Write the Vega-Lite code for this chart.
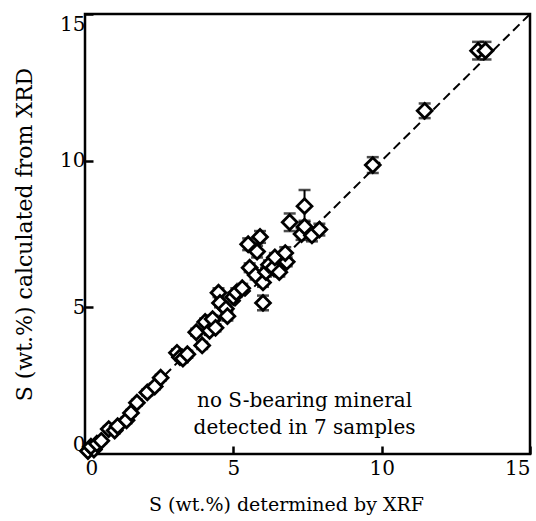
{
  "$schema": "https://vega.github.io/schema/vega-lite/v6.json",
  "width": 445,
  "height": 440,
  "autosize": "none",
  "padding": {"left": 85, "top": 14, "right": 6, "bottom": 67},
  "background": "white",
  "datasets": {
    "samples": [
      {"xrf": 0.1, "xrd": 0.1, "lo": 0.05, "hi": 0.15},
      {"xrf": 0.3, "xrd": 0.15, "lo": 0.1, "hi": 0.2},
      {"xrf": 0.2, "xrd": 0.25, "lo": 0.2, "hi": 0.3},
      {"xrf": 0.4, "xrd": 0.35, "lo": 0.27, "hi": 0.43},
      {"xrf": 0.55, "xrd": 0.45, "lo": 0.37, "hi": 0.53},
      {"xrf": 0.8, "xrd": 0.85, "lo": 0.75, "hi": 0.95},
      {"xrf": 1.0, "xrd": 0.8, "lo": 0.7, "hi": 0.9},
      {"xrf": 1.1, "xrd": 0.95, "lo": 0.85, "hi": 1.05},
      {"xrf": 1.4, "xrd": 1.15, "lo": 1.05, "hi": 1.25},
      {"xrf": 1.55, "xrd": 1.4, "lo": 1.3, "hi": 1.5},
      {"xrf": 1.75, "xrd": 1.75, "lo": 1.65, "hi": 1.85},
      {"xrf": 2.1, "xrd": 2.1, "lo": 2.0, "hi": 2.2},
      {"xrf": 2.35, "xrd": 2.3, "lo": 2.2, "hi": 2.4},
      {"xrf": 2.55, "xrd": 2.6, "lo": 2.5, "hi": 2.7},
      {"xrf": 3.1, "xrd": 3.45, "lo": 3.33, "hi": 3.57},
      {"xrf": 3.2, "xrd": 3.3, "lo": 3.2, "hi": 3.4},
      {"xrf": 3.3, "xrd": 3.25, "lo": 3.13, "hi": 3.37},
      {"xrf": 3.45, "xrd": 3.4, "lo": 3.28, "hi": 3.52},
      {"xrf": 3.75, "xrd": 4.15, "lo": 4.03, "hi": 4.27},
      {"xrf": 3.95, "xrd": 3.7, "lo": 3.58, "hi": 3.82},
      {"xrf": 4.05, "xrd": 4.5, "lo": 4.38, "hi": 4.62},
      {"xrf": 4.2, "xrd": 4.2, "lo": 4.08, "hi": 4.32},
      {"xrf": 4.3, "xrd": 4.6, "lo": 4.48, "hi": 4.72},
      {"xrf": 4.4, "xrd": 4.3, "lo": 4.18, "hi": 4.42},
      {"xrf": 4.5, "xrd": 5.5, "lo": 5.35, "hi": 5.65},
      {"xrf": 4.55, "xrd": 5.15, "lo": 5.0, "hi": 5.3},
      {"xrf": 4.75, "xrd": 4.95, "lo": 4.8, "hi": 5.1},
      {"xrf": 4.8, "xrd": 4.7, "lo": 4.55, "hi": 4.85},
      {"xrf": 5.0, "xrd": 5.35, "lo": 5.2, "hi": 5.5},
      {"xrf": 5.1, "xrd": 5.5, "lo": 5.35, "hi": 5.65},
      {"xrf": 5.3, "xrd": 5.65, "lo": 5.5, "hi": 5.8},
      {"xrf": 5.55, "xrd": 6.35, "lo": 6.2, "hi": 6.5},
      {"xrf": 5.75, "xrd": 6.1, "lo": 5.95, "hi": 6.25},
      {"xrf": 5.5, "xrd": 7.15, "lo": 6.95, "hi": 7.35},
      {"xrf": 5.9, "xrd": 7.4, "lo": 7.2, "hi": 7.6},
      {"xrf": 5.8, "xrd": 6.9, "lo": 6.7, "hi": 7.1},
      {"xrf": 6.0, "xrd": 5.85, "lo": 5.7, "hi": 6.0},
      {"xrf": 6.0, "xrd": 5.15, "lo": 4.9, "hi": 5.4},
      {"xrf": 6.1, "xrd": 6.2, "lo": 6.05, "hi": 6.35},
      {"xrf": 6.2, "xrd": 6.45, "lo": 6.3, "hi": 6.6},
      {"xrf": 6.35, "xrd": 6.35, "lo": 6.2, "hi": 6.5},
      {"xrf": 6.4, "xrd": 6.7, "lo": 6.55, "hi": 6.85},
      {"xrf": 6.55, "xrd": 6.2, "lo": 6.05, "hi": 6.35},
      {"xrf": 6.8, "xrd": 6.55, "lo": 6.4, "hi": 6.7},
      {"xrf": 6.75, "xrd": 6.85, "lo": 6.65, "hi": 7.05},
      {"xrf": 6.9, "xrd": 7.9, "lo": 7.6, "hi": 8.2},
      {"xrf": 7.3, "xrd": 7.5, "lo": 7.3, "hi": 7.7},
      {"xrf": 7.4, "xrd": 7.75, "lo": 7.55, "hi": 7.95},
      {"xrf": 7.4, "xrd": 8.45, "lo": 7.9, "hi": 9.0},
      {"xrf": 7.65, "xrd": 7.45, "lo": 7.25, "hi": 7.65},
      {"xrf": 7.9, "xrd": 7.65, "lo": 7.45, "hi": 7.85},
      {"xrf": 9.7, "xrd": 9.85, "lo": 9.58, "hi": 10.12},
      {"xrf": 11.45, "xrd": 11.7, "lo": 11.45, "hi": 11.95},
      {"xrf": 13.25, "xrd": 13.75, "lo": 13.45, "hi": 14.05},
      {"xrf": 13.5, "xrd": 13.75, "lo": 13.45, "hi": 14.05}
    ],
    "oneToOne": [{"v": 0}, {"v": 15}],
    "note": [{"line1": "no S-bearing mineral", "line2": "detected in 7 samples"}]
  },
  "config": {
    "font": "DejaVu Serif",
    "view": {"stroke": "black", "strokeWidth": 2.5},
    "axis": {
      "grid": false,
      "domain": false,
      "ticks": true,
      "tickColor": "black",
      "tickWidth": 2.5,
      "tickSize": -8,
      "labelFont": "DejaVu Serif",
      "labelFontSize": 20,
      "labelColor": "black",
      "labelFlush": true,
      "titleFont": "DejaVu Serif",
      "titleFontWeight": "normal",
      "titleColor": "black"
    }
  },
  "layer": [
    {
      "data": {"name": "oneToOne"},
      "mark": {"type": "line", "color": "black", "strokeWidth": 2, "strokeDash": [9, 5], "clip": true},
      "encoding": {
        "x": {"field": "v", "type": "quantitative",
              "scale": {"domain": [0, 15], "nice": false, "zero": false},
              "axis": {"values": [0, 5, 10, 15], "title": "S (wt.%) determined by XRF",
                       "labelPadding": 12, "titlePadding": 17, "titleFontSize": 19, "titleX": 201}},
        "y": {"field": "v", "type": "quantitative",
              "scale": {"domain": [0, 15], "nice": false, "zero": false},
              "axis": {"values": [0, 5, 10, 15], "title": "S (wt.%) calculated from XRD",
                       "labelPadding": 8, "titlePadding": 23, "titleFontSize": 22}}
      }
    },
    {
      "data": {"name": "samples"},
      "mark": {"type": "rule", "color": "black", "strokeWidth": 2},
      "encoding": {
        "x": {"field": "xrf", "type": "quantitative"},
        "y": {"field": "lo", "type": "quantitative"},
        "y2": {"field": "hi"}
      }
    },
    {
      "data": {"name": "samples"},
      "mark": {"type": "tick", "orient": "horizontal", "color": "black", "size": 12, "thickness": 2.5},
      "encoding": {
        "x": {"field": "xrf", "type": "quantitative"},
        "y": {"field": "lo", "type": "quantitative"}
      }
    },
    {
      "data": {"name": "samples"},
      "mark": {"type": "tick", "orient": "horizontal", "color": "black", "size": 12, "thickness": 2.5},
      "encoding": {
        "x": {"field": "xrf", "type": "quantitative"},
        "y": {"field": "hi", "type": "quantitative"}
      }
    },
    {
      "data": {"name": "samples"},
      "mark": {"type": "point", "shape": "diamond", "size": 220, "filled": false,
               "fill": "white", "fillOpacity": 1, "stroke": "black", "strokeWidth": 2.8, "opacity": 1},
      "encoding": {
        "x": {"field": "xrf", "type": "quantitative"},
        "y": {"field": "xrd", "type": "quantitative"}
      }
    },
    {
      "data": {"name": "note"},
      "mark": {"type": "text", "font": "DejaVu Serif", "fontSize": 20, "color": "black",
               "align": "center", "baseline": "middle"},
      "encoding": {
        "x": {"datum": 7.4, "type": "quantitative"},
        "y": {"datum": 1.8, "type": "quantitative"},
        "text": {"field": "line1"}
      }
    },
    {
      "data": {"name": "note"},
      "mark": {"type": "text", "font": "DejaVu Serif", "fontSize": 20, "color": "black",
               "align": "center", "baseline": "middle"},
      "encoding": {
        "x": {"datum": 7.4, "type": "quantitative"},
        "y": {"datum": 0.88, "type": "quantitative"},
        "text": {"field": "line2"}
      }
    }
  ]
}
